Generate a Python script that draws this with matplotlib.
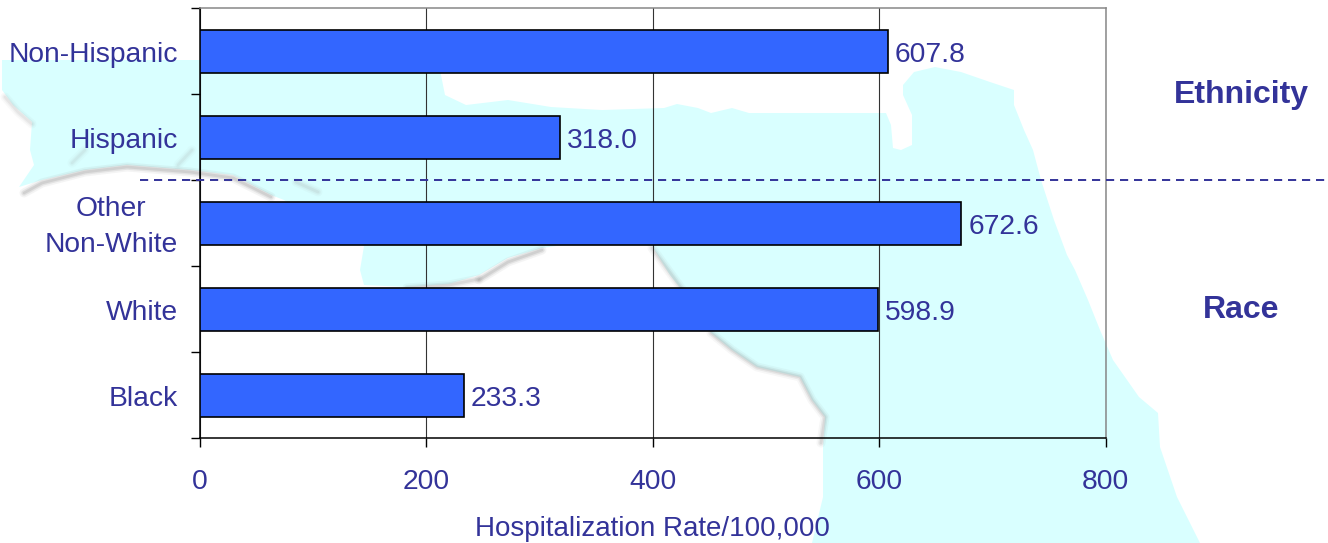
import matplotlib
matplotlib.use("Agg")
import matplotlib.pyplot as plt
from matplotlib.lines import Line2D
from matplotlib.transforms import blended_transform_factory, ScaledTranslation

categories = ["Black", "White", "Other\nNon-White", "Hispanic", "Non-Hispanic"]
rates = [233.3, 598.9, 672.6, 318.0, 607.8]
value_labels = ["233.3", "598.9", "672.6", "318.0", "607.8"]
x_ticks = [0, 200, 400, 600, 800]

TEXT = "#333399"
FS = 20.3
plt.rcParams["font.family"] = ["Liberation Sans", "DejaVu Sans"]

W, H = 1328, 543
fig = plt.figure(figsize=(W / 100, H / 100), dpi=100, facecolor="white")

# decorative background map (pixel space)
bg = fig.add_axes([0, 0, 1, 1], zorder=0)
bg.set_xlim(0, W)
bg.set_ylim(H, 0)
bg.axis("off")
land = [(2, 60), (178, 60), (441, 60), (441, 75), (445, 95), (466, 105), (508, 100), (551, 107),
        (602, 110), (664, 108), (677, 104), (698, 108), (711, 113), (732, 108), (749, 113),
        (825, 113), (886, 113), (891, 125), (893, 148), (901, 150), (912, 145), (912, 115),
        (903, 95), (903, 85), (914, 72), (935, 67), (961, 72), (990, 82), (1014, 90), (1014, 105),
        (1024, 130), (1033, 150), (1041, 180), (1054, 220), (1067, 255), (1075, 270), (1088, 300),
        (1100, 330), (1113, 360), (1139, 397), (1158, 413), (1160, 447), (1177, 497), (1200, 543),
        (812, 543), (823, 497), (823, 447), (825, 417), (812, 400), (800, 377), (757, 367),
        (732, 350), (711, 333), (690, 300), (670, 275), (652, 246), (600, 240), (542, 248),
        (508, 258), (479, 275), (449, 284), (407, 287), (364, 285), (360, 270), (364, 246),
        (320, 225), (284, 200), (271, 195), (233, 175), (190, 170), (127, 165), (85, 170),
        (42, 180), (19, 187), (34, 165), (30, 150), (32, 122), (13, 105), (2, 90)]
bg.fill(*zip(*land), color="#D9FFFF", lw=0)
shores = [
    ([(24, 193), (42, 183), (85, 172), (127, 167), (190, 172), (233, 178), (271, 197)], 1.0),
    ([(5, 97), (18, 112), (32, 124)], 0.5),
    ([(479, 280), (508, 262), (542, 250)], 1.0),
    ([(407, 288), (449, 285), (479, 279)], 0.8),
    ([(711, 333), (732, 350), (757, 367), (800, 377), (812, 400), (825, 417), (821, 443)], 0.8),
    ([(652, 248), (668, 270), (690, 300), (705, 322)], 0.7),
    ([(296, 182), (318, 192)], 0.5),
    ([(85, 150), (72, 163)], 0.4),
    ([(192, 150), (178, 165)], 0.4),
]
for s, strength in shores:
    for lw, a in [(6.5, 0.10), (4, 0.18), (2, 0.25)]:
        bg.plot(*zip(*s), color="#999999", lw=lw, alpha=a * strength, solid_capstyle="round")

# chart
left, right, top, bottom = 199.5, 1105.5, 8, 438
ax = fig.add_axes([left / W, 1 - bottom / H, (right - left) / W, (bottom - top) / H], zorder=1)
ax.patch.set_alpha(0)
positions = list(range(len(categories)))
ax.barh(positions, rates, height=0.5, color="#3366FF", edgecolor="black", linewidth=1.2, zorder=3)
ax.set_xlim(x_ticks[0], x_ticks[-1])
ax.set_ylim(-0.5, len(categories) - 0.5)
ax.set_xticks(x_ticks)
ax.set_xticklabels([str(t) for t in x_ticks], color=TEXT, fontsize=FS)
ax.tick_params(axis="x", length=6.5, width=1, color="black", pad=15.5)
ax.grid(axis="x", color="#333333", lw=0.8, zorder=1)

ax.set_yticks([p - 0.5 for p in positions] + [positions[-1] + 0.5])
ax.set_yticklabels([])
ax.tick_params(axis="y", which="major", length=6.5, width=1, color="black")
ax.set_yticks(positions, minor=True)
ax.set_yticklabels(categories, minor=True, color=TEXT, fontsize=FS, ma="center", linespacing=1.48)
ax.tick_params(axis="y", which="minor", length=0, pad=15.5)
for lab, cat in zip(ax.get_yticklabels(minor=True), categories):
    dy = 3.5 if "\n" in cat else -1
    lab.set_transform(lab.get_transform() + ScaledTranslation(0, dy / 100, fig.dpi_scale_trans))

for side, col in [("left", "black"), ("bottom", "black"), ("top", "#888888"), ("right", "#888888")]:
    ax.spines[side].set_color(col)
    ax.spines[side].set_linewidth(1.1)

for p, v, lab in zip(positions, rates, value_labels):
    ax.annotate(lab, (v, p), xytext=(5.2, -3), textcoords="offset points", va="center", ha="left",
                color=TEXT, fontsize=FS, zorder=4)

fig.text(652 / W, 1 - 529 / H, "Hospitalization Rate/100,000", ha="center", va="center", color=TEXT, fontsize=20)
fig.text(1241.5 / W, 1 - 95 / H, "Ethnicity", ha="center", va="center", color=TEXT, fontsize=23, fontweight="bold")
fig.text(1241.5 / W, 1 - 310 / H, "Race", ha="center", va="center", color=TEXT, fontsize=23, fontweight="bold")

# separator at the boundary between the ethnicity and race groups
trans = blended_transform_factory(fig.transFigure, ax.transData)
fig.add_artist(Line2D([140 / W, 1325 / W], [2.5, 2.5], transform=trans, color=TEXT, lw=1.4,
                      dashes=(4.2, 3), zorder=5))

fig.savefig("out.png", dpi=100)
